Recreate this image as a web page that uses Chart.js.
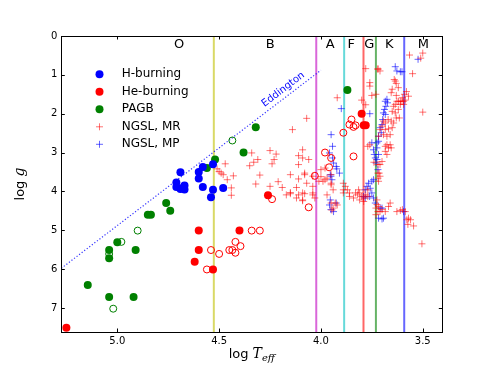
<!DOCTYPE html>
<html>
<head>
<meta charset="utf-8">
<script src="https://cdn.jsdelivr.net/npm/chart.js@4.4.0/dist/chart.umd.min.js"></script>
<style>body{margin:0;background:#fff}</style>
</head>
<body>
<canvas id="hr_chart" width="491" height="370"></canvas>
<script>
// [log Teff, log g]
const hBurning = [[4.69,3.51],[4.60,3.50],[4.58,3.37],[4.53,3.30],[4.60,3.67],[4.71,3.77],[4.71,3.89],[4.69,3.94],[4.67,3.85],[4.68,3.91],[4.58,3.89],[4.53,3.96],[4.54,4.15],[4.48,3.91],[4.67,3.95]];
const heBurning = [[4.60,5.01],[4.40,5.01],[4.60,5.51],[4.62,5.81],[4.53,6.01],[5.25,7.51],[4.26,4.10],[3.80,2.00],[3.79,2.30],[3.78,2.30]];
const heBurningOpen = [[4.34,5.01],[4.30,5.01],[4.54,5.51],[4.50,5.61],[4.45,5.51],[4.435,5.51],[4.42,5.58],[4.395,5.41],[4.42,5.30],[4.56,6.01],[4.24,4.20],[4.06,4.41],[4.03,3.60],[3.98,3.00],[3.95,3.14],[3.96,3.38],[3.89,2.49],[3.84,3.10],[3.85,2.15],[3.86,2.28],[3.84,2.34],[3.83,2.30]];
const pagb = [[4.52,3.18],[4.56,3.40],[4.38,3.00],[4.32,2.35],[4.76,4.30],[4.74,4.50],[4.85,4.60],[4.835,4.60],[5.00,5.31],[5.04,5.51],[5.04,5.72],[4.91,5.51],[5.145,6.41],[5.04,6.72],[4.92,6.72],[3.87,1.39]];
const pagbOpen = [[4.435,2.69],[4.90,5.01],[4.98,5.30],[5.04,5.61],[5.02,7.02]];
const ngslMR = [
  [4.34,3.01],[4.25,2.95],[4.22,3.04],[4.09,2.93],[4.11,3.08],[4.31,3.18],[4.33,3.25],[4.23,3.18],[4.24,3.29],[4.35,3.34],
  [4.11,3.31],[4.47,3.29],[4.51,3.42],[4.50,3.49],[4.49,3.53],[4.48,3.57],[4.43,3.60],[4.46,3.70],[4.30,3.58],[4.15,3.57],
  [4.08,3.57],[4.11,3.68],[4.21,3.75],[4.07,3.79],[4.32,3.81],[4.25,3.87],[4.19,3.90],[4.12,3.90],[4.44,3.91],[4.04,3.87],
  [4.15,4.03],[4.17,4.09],[4.15,4.06],[4.08,4.06],[4.11,4.09],[4.12,4.17],[4.09,4.24],[4.04,4.09],[4.44,4.10],
  [3.92,1.59],[4.07,2.12],[3.78,0.84],[3.76,1.20],[3.76,1.29],[3.75,1.53],[3.80,1.65],[3.78,1.77],[3.72,0.84],[3.73,1.50],
  [4.09,3.14],[4.06,3.18],[4.08,3.53],[4.04,3.61],[4.09,4.04],[4.09,4.22],[4.04,4.04],[4.03,4.17],[4.00,3.44],[3.98,3.40],
  [4.00,3.62],[3.98,3.70],[3.97,3.66],[4.01,3.74],[3.99,3.74],[3.95,3.57],[3.95,3.83],[3.95,3.79],[3.94,3.96],[3.95,4.30],
  [3.93,4.30],[3.92,4.35],[3.94,4.43],[3.89,3.79],[3.88,3.87],[3.89,3.96],[3.87,3.96],[3.89,4.04],[3.86,4.04],[3.86,4.13],
  [3.84,4.17],[3.83,4.04],[3.815,3.96],[3.82,4.09],[3.81,4.04],[3.80,4.13],[3.79,4.17],[3.78,4.09],[3.77,4.13],[3.81,4.22],
  [3.79,4.26],[3.77,3.96],[3.77,2.84],[3.76,2.80],[3.74,3.25],[3.72,3.31],[3.72,3.53],[3.72,3.66],[3.73,4.43],[3.72,4.52],
  [3.73,4.60],[3.725,4.34],
  [3.565,0.49],[3.50,0.44],[3.51,0.57],[3.72,0.86],[3.71,0.90],[3.55,0.97],[3.64,1.12],[3.635,1.16],[3.63,1.22],[3.65,1.37],
  [3.655,1.46],[3.62,1.33],[3.63,1.53],[3.58,1.43],[3.59,1.50],[3.57,1.55],[3.60,1.59],[3.627,1.68],[3.619,1.68],[3.61,1.68],
  [3.602,1.68],[3.594,1.68],[3.586,1.65],[3.635,1.76],[3.61,1.76],[3.594,1.76],[3.643,1.81],[3.65,1.94],[3.635,1.98],[3.62,1.89],
  [3.63,2.11],[3.615,2.11],[3.655,2.19],[3.643,2.24],[3.67,2.15],[3.684,2.24],[3.70,2.32],[3.71,2.41],[3.684,2.41],[3.668,2.39],
  [3.65,2.36],[3.66,2.54],[3.693,2.54],[3.717,2.58],[3.676,2.58],[3.50,1.96],[3.693,2.19],
  [3.676,2.80],[3.66,2.80],[3.668,2.88],[3.655,2.88],[3.684,2.84],[3.684,2.97],[3.676,3.05],[3.70,3.23],[3.71,3.31],[3.714,3.53],
  [3.71,3.61],[3.717,3.74],[3.725,4.22],[3.66,4.30],[3.668,4.39],[3.717,4.39],[3.70,4.47],[3.71,4.52],[3.684,4.52],[3.627,4.52],
  [3.61,4.49],[3.60,4.47],[3.586,4.52],[3.57,4.69],[3.56,4.73],[3.578,4.73],[3.573,4.85],[3.545,4.89],[3.504,5.35],
  [4.14,2.41],[3.97,4.09],[3.946,4.48]
];
const ngslMP = [
  [3.90,1.87],[3.95,2.54],[3.76,2.00],[3.943,2.84],[3.958,3.01],[3.943,3.14],[3.938,3.27],[3.922,3.42],[3.909,3.53],[3.925,3.36],
  [3.954,3.57],[3.951,3.61],[3.946,3.70],[3.954,4.22],[3.958,4.35],[3.951,4.47],[3.938,4.52],[3.925,4.30],[3.766,3.79],[3.75,3.74],
  [3.774,3.87],[3.782,3.96],[3.758,3.92],[3.75,4.04],[3.761,4.13],[3.742,4.17],[3.782,4.17],[3.742,2.93],[3.738,3.05],[3.733,3.14],
  [3.75,2.75],[3.635,0.79],[3.627,0.90],[3.61,0.92],[3.602,0.92],[3.684,1.68],[3.676,1.63],[3.673,1.72],[3.681,1.81],[3.688,1.89],
  [3.693,1.98],[3.684,2.02],[3.697,2.15],[3.70,2.28],[3.709,2.36],[3.704,2.49],[3.717,2.58],[3.725,2.75],[3.717,2.71],[3.725,2.88],
  [3.717,3.05],[3.725,3.18],[3.729,3.27],[3.72,3.44],[3.709,4.43],[3.70,4.43],[3.717,4.69],[3.70,4.71],[3.693,4.69],[3.594,4.52],
  [3.523,0.60],[3.791,4.13],[3.733,4.30],[3.742,3.70]
];
const eddingtonX = [5.275, 4.0];
const eddingtonY = [5.98, 0.88];
const spectralBounds = [4.526, 4.023, 3.886, 3.791, 3.730, 3.591];
const spectralNames = ['O', 'B', 'A', 'F', 'G', 'K', 'M'];
const spectralLabelX = [4.696, 4.249, 3.954, 3.851, 3.763, 3.664, 3.497];
const spectralLabelY = 0.21;
const xTicks = [5.0, 4.5, 4.0, 3.5];
const yTicks = [0, 1, 2, 3, 4, 5, 6, 7];
const legendLabels = ['H-burning', 'He-burning', 'PAGB', 'NGSL, MR', 'NGSL, MP'];

const boundColors = ['rgba(191,191,0,0.6)', 'rgba(191,0,191,0.6)', 'rgba(0,191,191,0.6)', 'rgba(255,0,0,0.6)', 'rgba(0,128,0,0.6)', 'rgba(0,0,255,0.6)'];
const FONT = '"DejaVu Sans", sans-serif';
Chart.defaults.font.family = FONT;

function toPoints(arr) {
    return arr.map(p => ({x: p[0], y: p[1]}));
}

function filled(label, arr, color) {
    return {label: label, data: toPoints(arr), pointStyle: 'circle', pointRadius: 4,
        pointBackgroundColor: color, pointBorderColor: color, pointBorderWidth: 0, order: 1};
}
function open(label, arr, color) {
    return {label: label, data: toPoints(arr), pointStyle: 'circle', pointRadius: 3.5,
        pointBackgroundColor: 'rgba(0,0,0,0)', pointBorderColor: color, pointBorderWidth: 1, order: 2};
}
function crosses(label, arr, color) {
    return {label: label, data: toPoints(arr), pointStyle: 'cross', pointRadius: 3.5,
        pointBorderColor: color, pointBorderWidth: 1, order: 5};
}

const datasets = [
    filled('H-burning', hBurning, '#0000ff'),
    filled('He-burning', heBurning, '#ff0000'),
    filled('PAGB', pagb, '#008000'),
    open('He-burning open', heBurningOpen, '#ff0000'),
    open('PAGB open', pagbOpen, '#008000'),
    crosses('NGSL, MR', ngslMR, 'rgba(255,0,0,0.55)'),
    crosses('NGSL, MP', ngslMP, 'rgba(0,0,255,0.6)'),
    {label: 'Eddington', data: eddingtonX.map((v, i) => ({x: v, y: eddingtonY[i]})), showLine: true,
        pointRadius: 0, borderColor: 'rgba(0,0,255,0.8)', borderWidth: 1.2, borderDash: [1.2, 2], order: 9}
];
spectralBounds.forEach((b, i) => {
    datasets.push({label: 'bound' + i, data: [{x: b, y: 0}, {x: b, y: 7.62}], showLine: true,
        pointRadius: 0, borderColor: boundColors[i], borderWidth: 2, order: 10});
});

const legendStyles = [
    {type: 'dot', color: '#0000ff'},
    {type: 'dot', color: '#ff0000'},
    {type: 'dot', color: '#008000'},
    {type: 'cross', color: 'rgba(255,0,0,0.55)'},
    {type: 'cross', color: 'rgba(0,0,255,0.6)'}
];

const decor = {
    id: 'decor',
    beforeDraw(chart) {
        const ctx = chart.ctx;
        ctx.save();
        ctx.fillStyle = '#fff';
        ctx.fillRect(0, 0, chart.width, chart.height);
        ctx.restore();
    },
    afterDraw(chart) {
        const {ctx, chartArea: a, scales: {x, y}} = chart;
        ctx.save();
        ctx.strokeStyle = '#000';
        ctx.lineWidth = 1;
        ctx.strokeRect(Math.round(a.left) + 0.5, Math.round(a.top) + 0.5, Math.round(a.right - a.left), Math.round(a.bottom - a.top));
        const tl = 3.5;
        ctx.beginPath();
        xTicks.forEach(v => {
            const px = Math.round(x.getPixelForValue(v)) + 0.5;
            ctx.moveTo(px, a.bottom); ctx.lineTo(px, a.bottom - tl);
            ctx.moveTo(px, a.top); ctx.lineTo(px, a.top + tl);
        });
        yTicks.forEach(v => {
            const py = Math.round(y.getPixelForValue(v)) + 0.5;
            ctx.moveTo(a.left, py); ctx.lineTo(a.left + tl, py);
            ctx.moveTo(a.right, py); ctx.lineTo(a.right - tl, py);
        });
        ctx.stroke();

        // spectral class labels
        ctx.fillStyle = '#000';
        ctx.font = '13px ' + FONT;
        ctx.textAlign = 'center';
        ctx.textBaseline = 'middle';
        spectralNames.forEach((s, i) => {
            ctx.fillText(s, x.getPixelForValue(spectralLabelX[i]), y.getPixelForValue(spectralLabelY));
        });

        // Eddington label along the line
        const x1 = x.getPixelForValue(eddingtonX[0]), y1 = y.getPixelForValue(eddingtonY[0]);
        const x2 = x.getPixelForValue(eddingtonX[1]), y2 = y.getPixelForValue(eddingtonY[1]);
        const ang = Math.atan2(y2 - y1, x2 - x1);
        ctx.save();
        ctx.translate(x.getPixelForValue(4.185), y.getPixelForValue(1.375));
        ctx.rotate(ang);
        ctx.fillStyle = '#0000ff';
        ctx.font = '10px ' + FONT;
        ctx.fillText('Eddington', 0, 0);
        ctx.restore();

        // legend
        ctx.textAlign = 'left';
        ctx.font = '12px ' + FONT;
        legendLabels.forEach((lab, i) => {
            const my = 74.3 + i * 17.5;
            const st = legendStyles[i];
            if (st.type === 'dot') {
                ctx.fillStyle = st.color;
                ctx.beginPath();
                ctx.arc(99.5, my, 4, 0, Math.PI * 2);
                ctx.fill();
            } else {
                ctx.strokeStyle = st.color;
                ctx.beginPath();
                ctx.moveTo(96, my); ctx.lineTo(103, my);
                ctx.moveTo(99.5, my - 3.5); ctx.lineTo(99.5, my + 3.5);
                ctx.stroke();
            }
            ctx.fillStyle = '#000';
            ctx.fillText(lab, 121.7, my);
        });

        // axis titles
        const serifIt = 'italic 14px "DejaVu Serif", serif';
        const plain = '13px ' + FONT;
        // x title: log T_eff
        ctx.font = plain;
        const w1 = ctx.measureText('log ').width;
        ctx.font = serifIt;
        const w2 = ctx.measureText('T').width;
        ctx.font = 'italic 10px "DejaVu Serif", serif';
        const w3 = ctx.measureText('eff').width;
        let sx = (a.left + a.right) / 2 - (w1 + w2 + w3) / 2;
        const ty = 354;
        ctx.textBaseline = 'alphabetic';
        ctx.font = plain; ctx.fillText('log ', sx, ty + 4);
        ctx.font = serifIt; ctx.fillText('T', sx + w1, ty + 4);
        ctx.font = 'italic 10px "DejaVu Serif", serif'; ctx.fillText('eff', sx + w1 + w2, ty + 7);

        // y title: log g
        ctx.save();
        ctx.translate(20, (a.top + a.bottom) / 2);
        ctx.rotate(-Math.PI / 2);
        ctx.font = plain;
        const v1 = ctx.measureText('log ').width;
        ctx.font = serifIt;
        const v2 = ctx.measureText('g').width;
        const s0 = -(v1 + v2) / 2;
        ctx.font = plain; ctx.fillText('log ', s0, 4);
        ctx.font = serifIt; ctx.fillText('g', s0 + v1, 4);
        ctx.restore();
        ctx.restore();
    }
};

new Chart(document.getElementById('hr_chart'), {
    type: 'scatter',
    data: {datasets: datasets},
    options: {
        responsive: false,
        animation: false,
        devicePixelRatio: 1,
        layout: {padding: {left: 0, top: 36, right: 48.7, bottom: 0}},
        plugins: {legend: {display: false}, tooltip: {enabled: false}},
        scales: {
            x: {
                type: 'linear', reverse: true, min: 3.404, max: 5.275,
                grid: {display: false, drawTicks: false}, border: {display: false},
                ticks: {color: '#000', font: {size: 10}, padding: 3, callback: v => v.toFixed(1)},
                afterBuildTicks: s => { s.ticks = xTicks.map(v => ({value: v})); },
                afterFit: s => { s.height = 38; }
            },
            y: {
                type: 'linear', reverse: true, min: 0, max: 7.62,
                grid: {display: false, drawTicks: false}, border: {display: false},
                ticks: {color: '#000', font: {size: 10}, padding: 4, callback: v => String(v)},
                afterBuildTicks: s => { s.ticks = yTicks.map(v => ({value: v})); },
                afterFit: s => { s.width = 61.3; }
            }
        }
    },
    plugins: [decor]
});
</script>
</body>
</html>
